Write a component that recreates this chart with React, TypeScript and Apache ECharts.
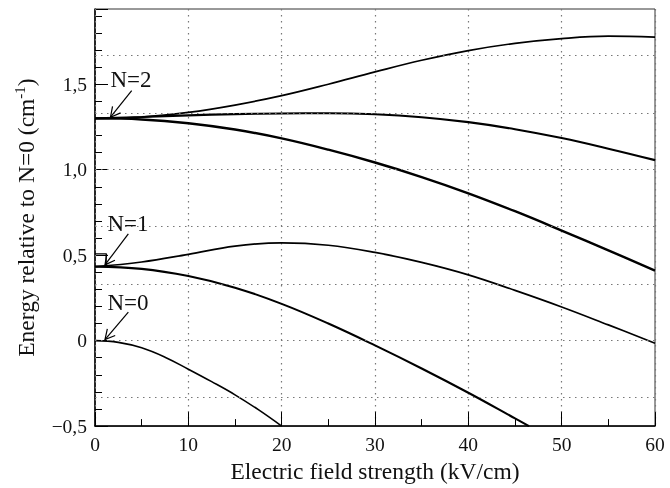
import React, { useEffect, useRef } from "react";
import * as echarts from "echarts";

// Electric field strength (kV/cm)
const fields = [0, 5, 10, 15, 20, 25, 30, 35, 40, 45, 50, 55, 60];

// N=2 manifold
const n2Top = [1.3, 1.308, 1.335, 1.378, 1.433, 1.5, 1.572, 1.64, 1.697, 1.739, 1.767, 1.781, 1.775];
const n2Mid = [1.3, 1.308, 1.318, 1.325, 1.329, 1.33, 1.324, 1.307, 1.278, 1.237, 1.185, 1.123, 1.056];
const n2Low = [1.3, 1.294, 1.272, 1.235, 1.183, 1.117, 1.042, 0.957, 0.862, 0.757, 0.644, 0.528, 0.41];

// N=1 manifold
const n1Up = [0.433, 0.46, 0.505, 0.553, 0.572, 0.558, 0.516, 0.458, 0.385, 0.294, 0.197, 0.092, -0.015];
const n1LowX = [0, 5, 10, 15, 20, 25, 30, 35, 40, 45, 46.5];
const n1Low = [0.433, 0.42, 0.378, 0.31, 0.215, 0.1, -0.028, -0.163, -0.305, -0.455, -0.5];

// N=0
const n0X = [0, 2.5, 5, 7.5, 10, 12.5, 15, 17.5, 20];
const n0 = [0, -0.01, -0.042, -0.097, -0.167, -0.24, -0.317, -0.404, -0.5];

// dotted horizontal grid levels
const gridY = [-1 / 3, 0, 1 / 3, 2 / 3, 1, 4 / 3, 5 / 3];

// annotations (data coordinates)
const annLabels = ["N=2", "N=1", "N=0"];
const annText = [[3.86, 1.529], [3.54, 0.687], [3.54, 0.225]];
const annFrom = [[3.93, 1.462], [3.57, 0.625], [3.57, 0.167]];
const annTo = [[1.66, 1.307], [1.07, 0.443], [1.07, 0.006]];

const FONT = '"Liberation Serif", "Times New Roman", serif';
const DOT = { color: "#777", type: [1.5, 4.5], width: 1.2 };

const pairs = (xs: number[], ys: number[]) => xs.map((x, i) => [x, ys[i]]);

const fmtY = (v: number) => {
  if (Math.abs(v * 2 - Math.round(v * 2)) > 1e-6) return "";
  if (Math.abs(v) < 1e-9) return "0";
  return v.toFixed(1).replace(".", ",").replace("-", "\u2212");
};

export default function App() {
  const ref = useRef<HTMLDivElement>(null);
  useEffect(() => {
    if (!ref.current) return;
    const chart = echarts.init(ref.current, null, { renderer: "svg" });
    const lineSeries = (name: string, data: number[][], width: number, extra: any = {}) => ({
      name,
      type: "line",
      data,
      showSymbol: false,
      symbol: "none",
      smooth: 0.4,
      lineStyle: { color: "#000", width },
      z: 3,
      ...extra,
    });
    const option: any = {
      animation: false,
      grid: { left: 95, right: 15, top: 9, bottom: 56, show: true, borderColor: "#333", borderWidth: 1 },
      xAxis: {
        type: "value",
        min: 0,
        max: 60,
        interval: 10,
        name: "Electric field strength (kV/cm)",
        nameLocation: "middle",
        nameGap: 32,
        nameTextStyle: { fontFamily: FONT, fontSize: 23.5, color: "#111" },
        axisLine: { show: true, onZero: false, lineStyle: { color: "#000", width: 1.5 } },
        axisTick: { show: true, inside: true, length: 14, lineStyle: { color: "#000", width: 1 } },
        minorTick: { show: true, splitNumber: 2, length: 7, lineStyle: { color: "#000", width: 1 } },
        axisLabel: { fontFamily: FONT, fontSize: 19.5, color: "#111", margin: 8 },
        splitLine: { show: true, lineStyle: DOT },
        z: 2,
      },
      yAxis: [
        {
          type: "value",
          min: -0.5,
          max: 1.94,
          interval: 0.1,
          position: "left",
          name: "{a|Energy relative to N=0 (cm}{s|-1}{a|)}",
          nameLocation: "middle",
          nameGap: 56,
          nameRotate: 90,
          nameTextStyle: {
            fontFamily: FONT,
            color: "#111",
            rich: {
              a: { fontFamily: FONT, fontSize: 23.5, color: "#111", lineHeight: 27 },
              s: { fontFamily: FONT, fontSize: 15, color: "#111", verticalAlign: "top", lineHeight: 15 },
            },
          },
          axisLine: { show: true, onZero: false, lineStyle: { color: "#000", width: 1.5 } },
          axisTick: { show: true, inside: true, length: 7, lineStyle: { color: "#000", width: 1 } },
          axisLabel: { formatter: fmtY, fontFamily: FONT, fontSize: 19.5, color: "#111", margin: 8, showMaxLabel: false },
          splitLine: { show: false },
        },
        {
          type: "value",
          min: -0.5,
          max: 1.94,
          interval: 0.5,
          position: "left",
          axisLine: { show: false },
          axisTick: { show: true, inside: true, length: 13, lineStyle: { color: "#000", width: 1 } },
          axisLabel: { show: false },
          splitLine: { show: false },
        },
      ],
      series: [
        lineSeries("N2 a", pairs(fields, n2Top), 1.7, {
          markLine: {
            silent: true,
            symbol: ["none", "none"],
            label: { show: false },
            lineStyle: DOT,
            emphasis: { disabled: true },
            data: gridY.map((v) => ({ yAxis: v })),
          },
        }),
        lineSeries("N2 b", pairs(fields, n2Mid), 2.1),
        lineSeries("N2 c", pairs(fields, n2Low), 2.4),
        lineSeries("N1 a", pairs(fields, n1Up), 1.7),
        lineSeries("N1 b", pairs(n1LowX, n1Low), 2.1),
        lineSeries("N0", pairs(n0X, n0), 1.6),
      ],
    };
    chart.setOption(option);

    const toPx = (p: number[]) => chart.convertToPixel({ gridIndex: 0 }, p) as number[];
    const graphics: any[] = [];
    annLabels.forEach((label, i) => {
      const t = toPx(annText[i]);
      const a = toPx(annFrom[i]);
      const b = toPx(annTo[i]);
      graphics.push({
        type: "text",
        x: t[0],
        y: t[1],
        style: { text: label, fontFamily: FONT, fontSize: 23, fill: "#111", align: "center", verticalAlign: "middle" },
        z: 10,
      });
      graphics.push({
        type: "line",
        shape: { x1: a[0], y1: a[1], x2: b[0], y2: b[1] },
        style: { stroke: "#000", lineWidth: 1.2 },
        z: 10,
      });
      const ang = Math.atan2(a[1] - b[1], a[0] - b[0]);
      const L = 11;
      const d = (28 * Math.PI) / 180;
      const p1 = [b[0] + L * Math.cos(ang + d), b[1] + L * Math.sin(ang + d)];
      const p2 = [b[0] + L * Math.cos(ang - d), b[1] + L * Math.sin(ang - d)];
      graphics.push({
        type: "polyline",
        shape: { points: [p1, b, p2] },
        style: { stroke: "#000", lineWidth: 1.2, fill: null },
        z: 10,
      });
    });
    // small bracket near N=1 arrow tip
    const q0 = toPx([0, 0.508]);
    const q1 = toPx([1.2, 0.508]);
    const q2 = toPx([1.2, 0.433]);
    graphics.push({
      type: "polyline",
      shape: { points: [q0, q1, q2] },
      style: { stroke: "#000", lineWidth: 1.2, fill: null },
      z: 10,
    });
    chart.setOption({ graphic: graphics });

    return () => chart.dispose();
  }, []);
  return <div ref={ref} style={{ position: "fixed", left: 0, top: 0, width: 670, height: 488 }} />;
}
